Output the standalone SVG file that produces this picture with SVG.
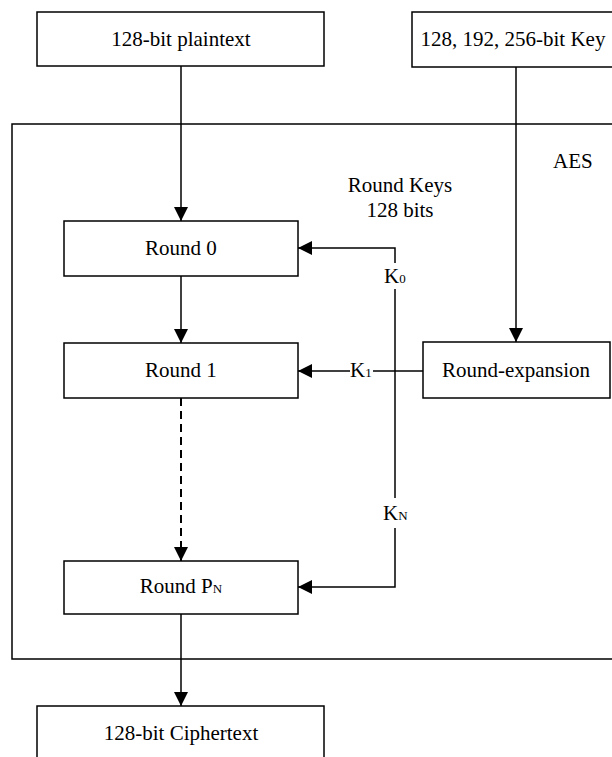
<svg xmlns="http://www.w3.org/2000/svg" width="612" height="757" viewBox="0 0 612 757">
<style>
.box{fill:#fff;stroke:#000;stroke-width:1.5}
.frame{fill:none;stroke:#000;stroke-width:1.5}
.t{font-family:'Liberation Serif','Times New Roman',Times,'DejaVu Serif',serif;font-size:21px;fill:#000}
.c{text-anchor:middle}
.sub{font-size:13px}
.ln{stroke:#000;stroke-width:1.5;fill:none}
.dash{stroke-width:2;stroke-dasharray:8,5}
</style>
<defs>
<marker id="ah" markerUnits="userSpaceOnUse" markerWidth="14" markerHeight="14" refX="14" refY="7" orient="auto">
<path d="M0,0 L14,7 L0,14 z" fill="#000"/>
</marker>
</defs>
<rect width="612" height="757" fill="#fff"/>
<g id="aes">
<rect class="frame" x="12" y="124" width="610" height="535"/>
<text class="t" x="553" y="168" font-family="Liberation Serif, serif">AES</text>
<text class="t c" x="400" y="192" font-family="Liberation Serif, serif">Round Keys</text>
<text class="t c" x="400" y="217" font-family="Liberation Serif, serif">128 bits</text>
</g>
<g id="connectors">
<path class="ln" d="M181,66 V221" marker-end="url(#ah)"/>
<path class="ln" d="M516,67 V342" marker-end="url(#ah)"/>
<path class="ln" d="M181,276 V343" marker-end="url(#ah)"/>
<path class="ln dash" d="M181,398 V561" marker-end="url(#ah)"/>
<path class="ln" d="M181,614 V706" marker-end="url(#ah)"/>
<path class="ln" d="M395,263 V248 H298" marker-end="url(#ah)"/>
<path class="ln" d="M395,289 V498"/>
<path class="ln" d="M395,528 V587 H298" marker-end="url(#ah)"/>
<path class="ln" d="M423,371 H373"/>
<path class="ln" d="M350,371 H298" marker-end="url(#ah)"/>
<text class="t" x="384" y="283">K<tspan class="sub">0</tspan></text>
<text class="t" x="350" y="377">K<tspan class="sub">1</tspan></text>
<text class="t" x="383" y="520">K<tspan class="sub">N</tspan></text>
</g>
<g id="plaintext">
<rect class="box" x="37" y="12" width="287" height="54"/>
<text class="t c" x="181" y="46">128-bit plaintext</text>
</g>
<g id="key">
<rect class="box" x="412" y="12" width="210" height="55"/>
<text class="t c" x="513" y="46">128, 192, 256-bit Key</text>
</g>
<g id="round0">
<rect class="box" x="64" y="221" width="234" height="55"/>
<text class="t c" x="181" y="255">Round 0</text>
</g>
<g id="round1">
<rect class="box" x="64" y="343" width="234" height="55"/>
<text class="t c" x="181" y="377">Round 1</text>
</g>
<g id="roundexp">
<rect class="box" x="423" y="342" width="187" height="56"/>
<text class="t c" x="516" y="377">Round-expansion</text>
</g>
<g id="roundpn">
<rect class="box" x="64" y="561" width="234" height="53"/>
<text class="t c" x="181" y="593">Round P<tspan class="sub">N</tspan></text>
</g>
<g id="ciphertext">
<rect class="box" x="37" y="706" width="287" height="60"/>
<text class="t c" x="181" y="740">128-bit Ciphertext</text>
</g>
</svg>
